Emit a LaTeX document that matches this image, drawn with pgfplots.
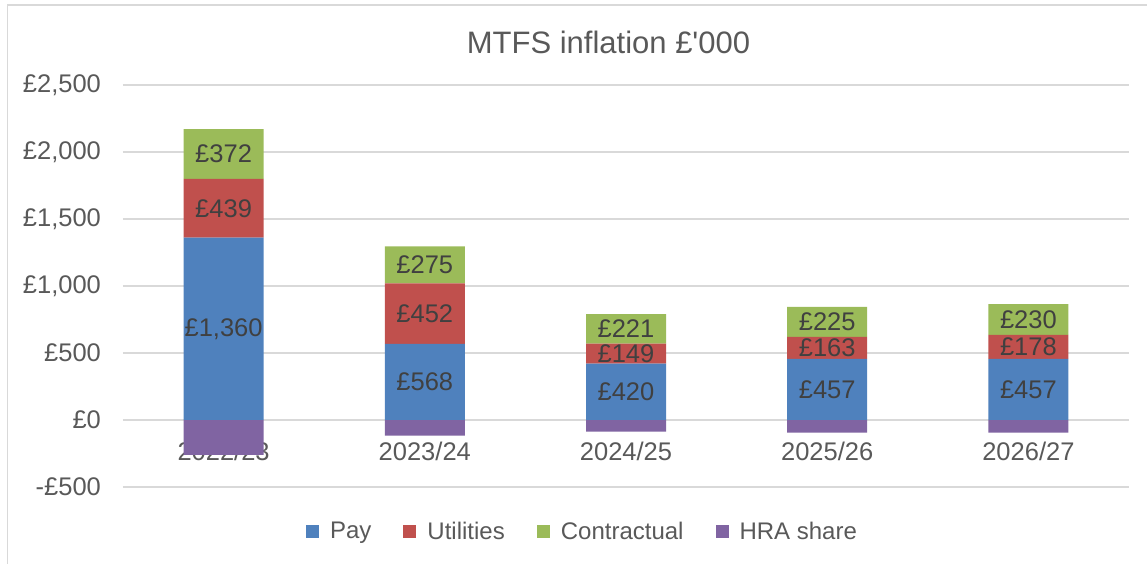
\documentclass[border=0pt]{standalone}
\usepackage{pgfplots}
\pgfplotsset{compat=1.18}
\usepackage{fontspec}
\setmainfont{Liberation Sans}

\definecolor{pay}{HTML}{4F81BD}
\definecolor{util}{HTML}{C0504D}
\definecolor{contr}{HTML}{9BBB59}
\definecolor{hra}{HTML}{8064A2}
\definecolor{gridgrey}{HTML}{D9D9D9}
\definecolor{txt}{HTML}{595959}
\definecolor{lab}{HTML}{404040}

\pgfplotsset{
  base/.style={
    at={(0,0)}, anchor=south west,
    scale only axis, width=503pt, height=201pt,
    xmin=-0.5, xmax=4.5, ymin=-500, ymax=2500,
    bar width=40pt,
  },
}

\begin{document}
\begin{tikzpicture}
\useasboundingbox (-61.5pt,-39pt) rectangle (512pt,243.5pt);
% chart frame: only left and top edges fall inside the picture
\draw[gridgrey, line width=0.75pt] (-57.8pt,-38.5pt) -- (-57.8pt,241pt) -- (512pt,241pt);

% background axis: grid, ticks and the negative HRA share
\begin{axis}[base, ybar,
  axis line style={draw=none}, tick style={draw=none}, major tick length=0pt,
  ymajorgrids, grid style={gridgrey, line width=0.75pt},
  ytick={-500,0,500,1000,1500,2000,2500},
  yticklabels={-£500,£0,£500,£1{,}000,£1{,}500,£2{,}000,£2{,}500},
  xtick={0,...,4},
  xticklabels={2022/23,2023/24,2024/25,2025/26,2026/27},
  ticklabel style={font=\fontsize{12.75}{15}\selectfont, text=txt},
  yticklabel style={xshift=-7.5pt},
  xticklabel style={anchor=center, yshift=18pt},
]
\addplot[fill=hra, draw=none] coordinates {(0,-261) (1,-117) (2,-87) (3,-95) (4,-95)};
\end{axis}

% stacked positive parts
\begin{axis}[base, ybar stacked, hide axis,
  legend columns=-1,
  legend style={at={(axis description cs:0.4578,-0.112)}, anchor=center,
    draw=none, fill=none, font=\fontsize{12}{14}\selectfont, text=txt,
    /tikz/every odd column/.append style={column sep=3.5pt},
    /tikz/every even column/.append style={column sep=14pt}},
  legend image code/.code={\fill[#1] (0pt,-3pt) rectangle (6.5pt,3.5pt);},
]
\addplot[fill=pay, draw=none] coordinates {(0,1360) (1,568) (2,420) (3,457) (4,457)};
\addplot[fill=util, draw=none] coordinates {(0,439) (1,452) (2,149) (3,163) (4,178)};
\addplot[fill=contr, draw=none] coordinates {(0,372) (1,275) (2,221) (3,225) (4,230)};
\addlegendentry{Pay}
\addlegendentry{Utilities}
\addlegendentry{Contractual}
\addlegendimage{fill=hra, draw=none}
\addlegendentry{HRA share}
\end{axis}

% data labels at the middle of each segment
\begin{axis}[base, hide axis,
  point meta=explicit,
  nodes near coords={£\pgfmathprintnumber{\pgfplotspointmeta}},
  every node near coord/.append style={anchor=center,
    font=\fontsize{12.75}{15}\selectfont, text=lab},
  /pgf/number format/fixed, /pgf/number format/precision=0,
  /pgf/number format/1000 sep={,}, /pgf/number format/assume math mode=true,
]
\addplot[draw=none, mark=none] coordinates {
  (0,680) [1360] (1,284) [568] (2,210) [420] (3,228.5) [457] (4,228.5) [457]};
\addplot[draw=none, mark=none] coordinates {
  (0,1579.5) [439] (1,794) [452] (2,494.5) [149] (3,538.5) [163] (4,546) [178]};
\addplot[draw=none, mark=none] coordinates {
  (0,1985) [372] (1,1157.5) [275] (2,679.5) [221] (3,732.5) [225] (4,750) [230]};
\end{axis}

\node[font=\fontsize{15.5}{18}\selectfont, text=txt] at (242.75pt,222.5pt) {MTFS inflation £\textquotesingle000};
\end{tikzpicture}
\end{document}
